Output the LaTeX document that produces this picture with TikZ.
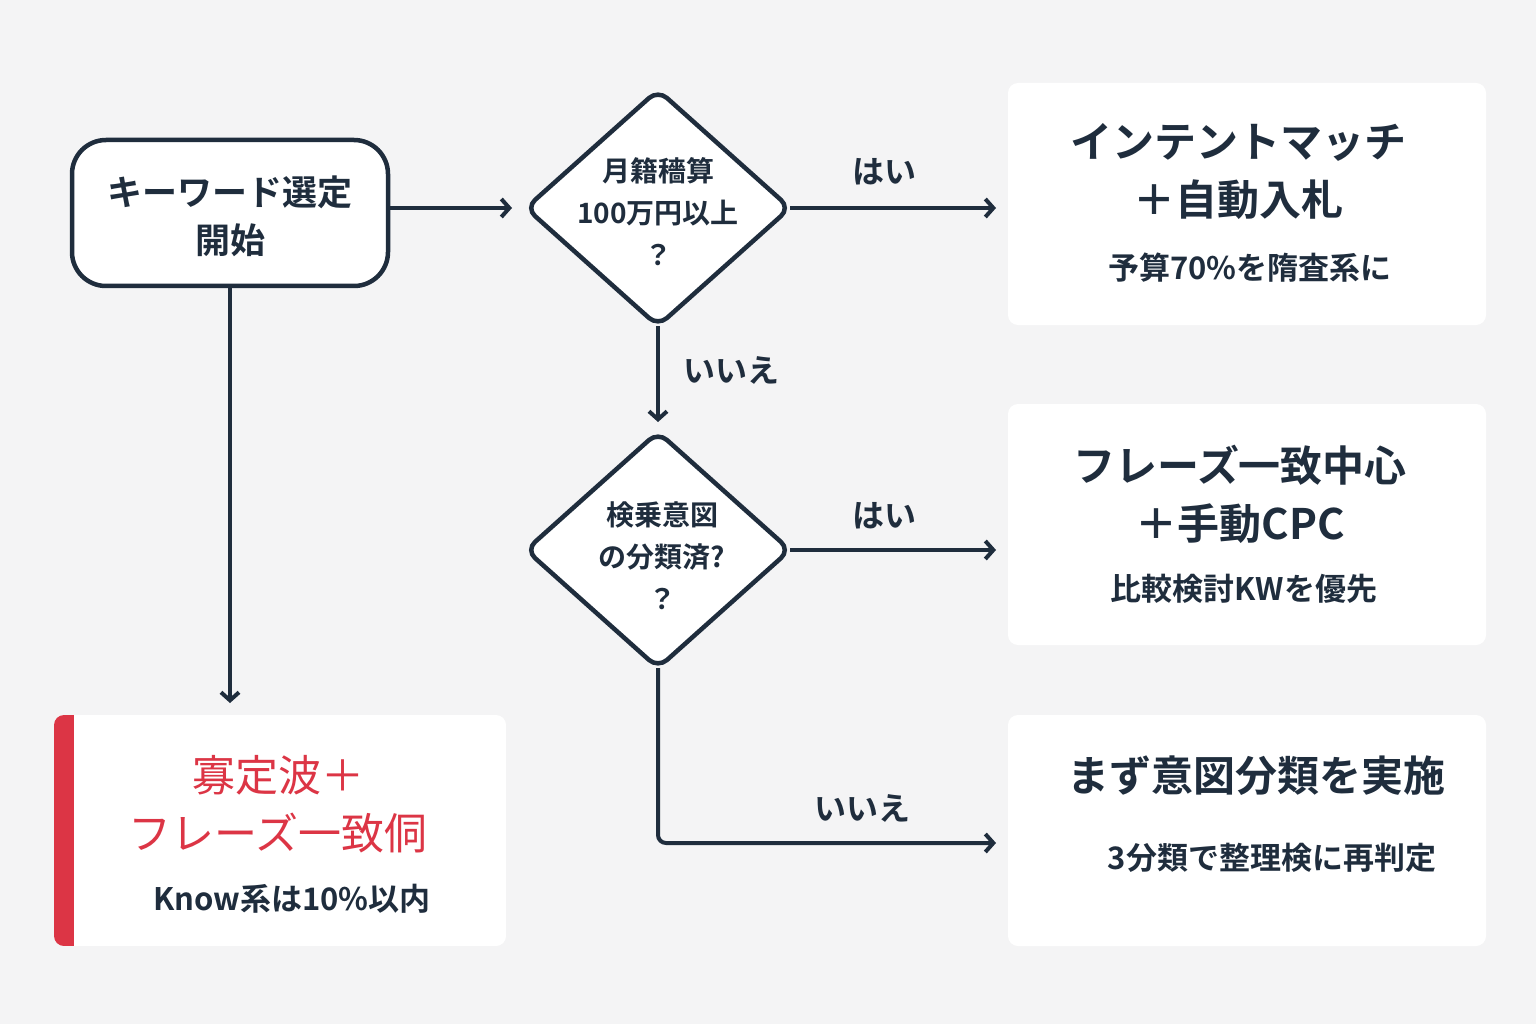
\documentclass[tikz,border=0pt]{standalone}
\usepackage{fontspec}
\setmainfont{Noto Sans CJK JP}[BoldFont={* Bold}]
\usetikzlibrary{arrows.meta}
\definecolor{ink}{HTML}{1F2D3D}
\definecolor{bg}{HTML}{F4F4F5}
\definecolor{redc}{HTML}{DC3545}
\begin{document}
\begin{tikzpicture}[x=1pt,y=-1pt,
  line/.style={draw=ink,line width=4pt,-{Straight Barb[length=8pt,width=18pt,line width=4pt]}},
  card/.style={fill=white,rounded corners=10pt},
  dia/.style={draw=ink,line width=4.5pt,fill=white,rounded corners=12pt},
  lab/.style={font=\bfseries\fontsize{32}{36}\selectfont,text=ink},
  t/.style={font=\bfseries,text=ink,align=center}]
\fill[bg] (0,0) rectangle (1536,1024);
\useasboundingbox (0,0) rectangle (1536,1024);
% start
\draw[ink,line width=4.5pt,fill=white,rounded corners=34pt] (72,140) rectangle (388,286);
\node[t,font=\bfseries\fontsize{35}{48}\selectfont] (start) at (230,216) {キーワード選定\\開始};
\coordinate (sR) at (388,208); \coordinate (sB) at (230,286);
% diamonds
\draw[dia] (658,90) -- (790,208) -- (658,326) -- (526,208) -- cycle;
\node[t,font=\bfseries\fontsize{28}{42}\selectfont] (d1) at (658,212) {月籍穡算\\100万円以上\\？};
\draw[dia] (658,432) -- (790,550) -- (658,668) -- (526,550) -- cycle;
\node[t,font=\bfseries\fontsize{28}{42}\selectfont] (d2) at (662,556) {検乗意図\\の分類済?\\？};
\coordinate (d1L) at (512,208); \coordinate (d1R) at (790,208); \coordinate (d1B) at (658,326);
\coordinate (d2T) at (658,422); \coordinate (d2R) at (790,550); \coordinate (d2B) at (658,668);
% cards
\fill[card] (1008,83) rectangle (1486,325);
\node[t,font=\bfseries\fontsize{42}{58}\selectfont] (c1) at (1238,172) {インテントマッチ\\＋自動入札};
\node[t,font=\bfseries\fontsize{31}{34}\selectfont] (c1s) at (1250,268) {予算70\%を隋査系に};
\fill[card] (1008,404) rectangle (1486,645);
\node[t,font=\bfseries\fontsize{42}{58}\selectfont] (c2) at (1240,494) {フレーズ一致中心\\＋手動CPC};
\node[t,font=\bfseries\fontsize{31}{34}\selectfont] (c2s) at (1244,589) {比較検討KWを優先};
\fill[card] (1008,715) rectangle (1486,946);
\node[t,font=\bfseries\fontsize{42}{48}\selectfont] (c3) at (1256,776) {まず意図分類を実施};
\node[t,font=\bfseries\fontsize{31}{34}\selectfont] (c3s) at (1272,858) {3分類で整理検に再判定};
% left bottom
\begin{scope}
\clip[rounded corners=10pt] (54,715) rectangle (506,946);
\fill[white] (54,715) rectangle (506,946);
\fill[redc] (54,715) rectangle (74,946);
\end{scope}
\node[font=\fontsize{43}{58}\selectfont,text=redc,align=center] (lb) at (278,804) {寡定波＋\\フレーズ一致侗};
\node[t,font=\bfseries\fontsize{31}{34}\selectfont] (lbs) at (292,899) {Know系は10\%以内};
% arrows
\coordinate (a1) at (996,208); \coordinate (a2) at (996,550);
\coordinate (corner) at (658,843); \coordinate (a3) at (996,843);
\coordinate (lbT) at (230,703);
\draw[line] (sR) -- (d1L);
\draw[line] (d1R) -- (a1);
\draw[line] (d1B) -- (d2T);
\draw[line] (d2R) -- (a2);
\draw[line,rounded corners=8pt] (d2B) -- (corner) -- (a3);
\draw[line] (sB) -- (lbT);
\node[lab] (l1) at (884,172) {はい};
\node[lab] (l2) at (731,370) {いいえ};
\node[lab] (l3) at (884,516) {はい};
\node[lab] (l4) at (862,808) {いいえ};
\end{tikzpicture}
\end{document}
